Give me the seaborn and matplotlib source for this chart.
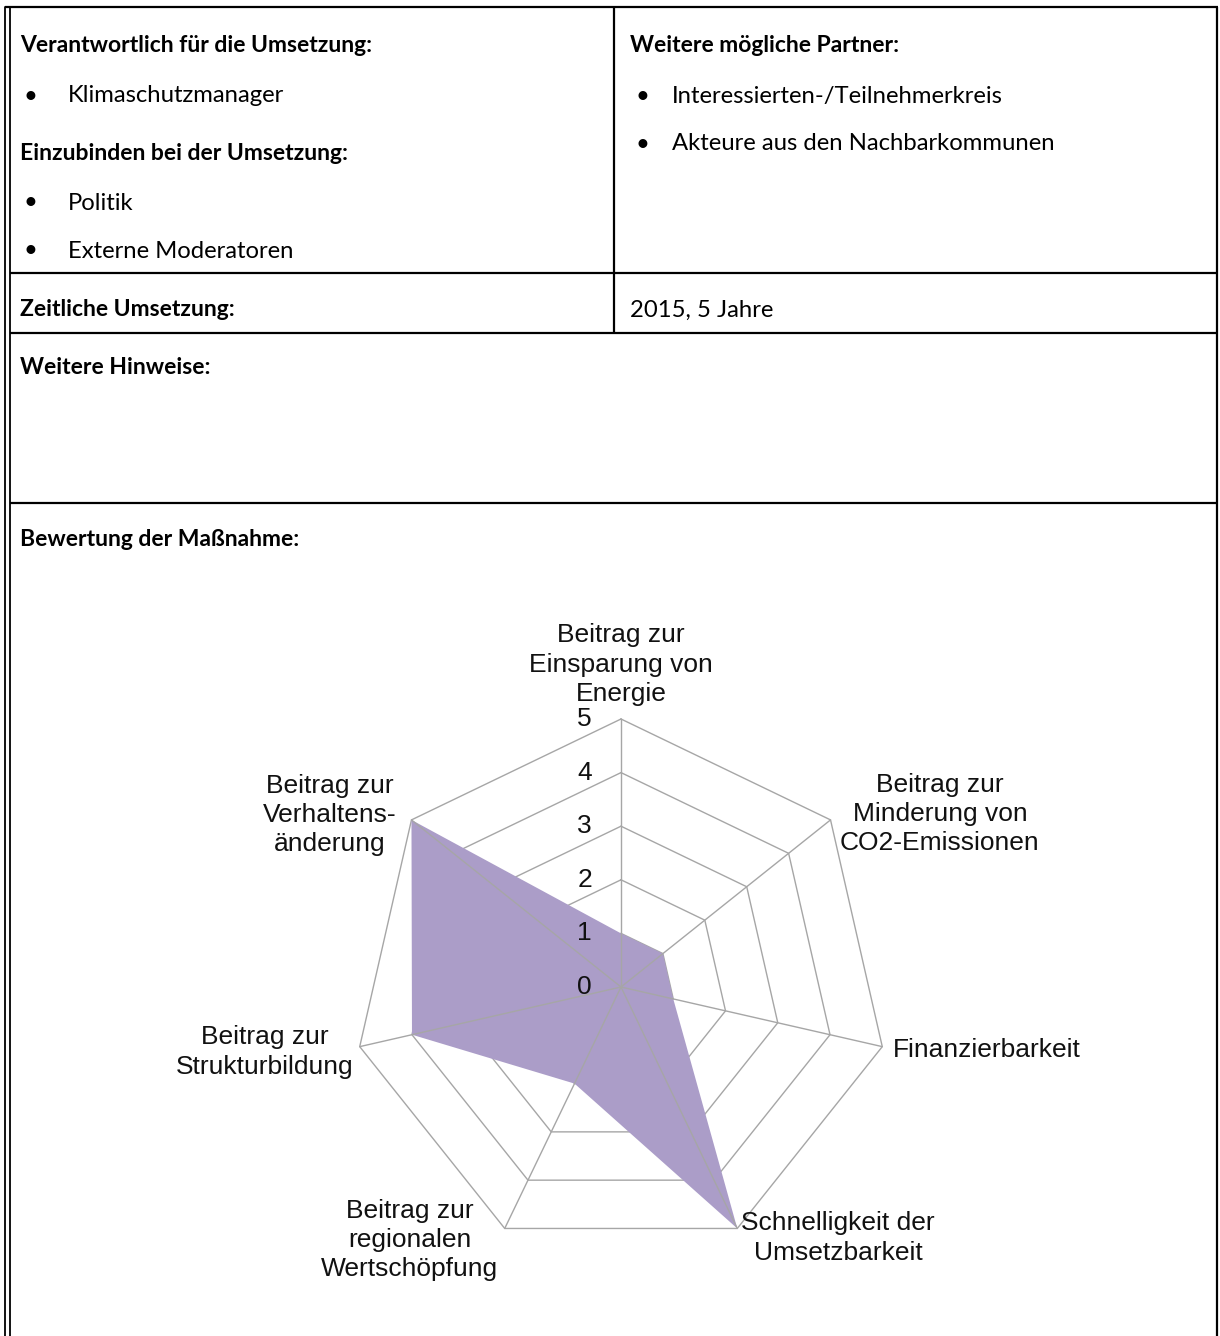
import numpy as np
import pandas as pd
import matplotlib.pyplot as plt
import seaborn as sns

sns.set_theme(style="white")

# Radar data (clockwise from top)
categories = [
    "Beitrag zur\nEinsparung von\nEnergie",
    "Beitrag zur\nMinderung von\nCO2-Emissionen",
    "Finanzierbarkeit",
    "Schnelligkeit der\nUmsetzbarkeit",
    "Beitrag zur\nregionalen\nWertschöpfung",
    "Beitrag zur\nStrukturbildung",
    "Beitrag zur\nVerhaltens-\nänderung",
]
scores = [1, 1, 1, 5, 2, 4, 5]
levels = [1, 2, 3, 4, 5]
tick_labels = ["0", "1", "2", "3", "4", "5"]

# Table texts
left_items = [
    ("Verantwortlich für die Umsetzung:", True),
    ("Klimaschutzmanager", False),
    ("Einzubinden bei der Umsetzung:", True),
    ("Politik", False),
    ("Externe Moderatoren", False),
]
right_items = [
    ("Weitere mögliche Partner:", True),
    ("Interessierten-/Teilnehmerkreis", False),
    ("Akteure aus den Nachbarkommunen", False),
]
zeit_label = "Zeitliche Umsetzung:"
zeit_value = "2015, 5 Jahre"
hinweise_label = "Weitere Hinweise:"
bewertung_label = "Bewertung der Maßnahme:"

W, H = 1220, 1336
fig = plt.figure(figsize=(W / 100, H / 100), dpi=100)

# ---- table frame (pixel coordinates) ----
ax_t = fig.add_axes([0, 0, 1, 1])
ax_t.set_xlim(0, W)
ax_t.set_ylim(H, 0)
ax_t.axis("off")

frame_kw = dict(color="black", lw=1.6, solid_capstyle="butt")
ax_t.plot([5, 1218], [7, 7], **frame_kw)
ax_t.plot([5, 5], [7, H], color="black", lw=1.3)
ax_t.plot([10, 10], [7, H], color="black", lw=1.3)
ax_t.plot([1217, 1217], [7, H], **frame_kw)
ax_t.plot([614, 614], [7, 333], **frame_kw)
for yy in [273, 333, 503]:
    ax_t.plot([10, 1217], [yy, yy], **frame_kw)

tfont = ["Lato", "DejaVu Sans"]
bold_kw = dict(fontsize=16.5, fontweight="bold", family=tfont, va="center",
               ha="left", color="black")
reg_kw = dict(fontsize=17.2, family=tfont, va="center", ha="left", color="black")

left_y = [45, 96, 153, 203, 251]
for (txt, bold), yy in zip(left_items, left_y):
    if bold:
        ax_t.text(20, yy, txt, **bold_kw)
    else:
        ax_t.text(24, yy, "•", **reg_kw)
        ax_t.text(68, yy, txt, **reg_kw)

right_y = [45, 96, 144]
for (txt, bold), yy in zip(right_items, right_y):
    if bold:
        ax_t.text(630, yy, txt, **bold_kw)
    else:
        ax_t.text(636, yy, "•", **reg_kw)
        ax_t.text(672, yy, txt, **reg_kw)

ax_t.text(20, 310, zeit_label, **bold_kw)
ax_t.text(630, 310, zeit_value, **reg_kw)
ax_t.text(20, 367, hinweise_label, **bold_kw)
ax_t.text(20, 540, bewertung_label, **bold_kw)

# ---- radar chart ----
px_per_unit = 53.6
cx, cy = 621, 987
xl, yb, yt = 7.5, -6.2, 7.5
ax_w = 2 * xl * px_per_unit
ax_h = (yt - yb) * px_per_unit
ax_r = fig.add_axes([(cx - xl * px_per_unit) / W,
                     (H - cy + yb * px_per_unit) / H,
                     ax_w / W, ax_h / H])
ax_r.set_xlim(-xl, xl)
ax_r.set_ylim(yb, yt)
ax_r.axis("off")
ax_r.patch.set_alpha(0)

n = len(categories)
angles = np.arange(n) * 2 * np.pi / n
grid_color = "#a6a6a6"

# rings (drawn under the filled area)
for lv in levels:
    ring = pd.DataFrame({
        "x": np.append(lv * np.sin(angles), lv * np.sin(angles[0])),
        "y": np.append(lv * np.cos(angles), lv * np.cos(angles[0])),
    })
    sns.lineplot(data=ring, x="x", y="y", sort=False, estimator=None,
                 color=grid_color, lw=1.0, ax=ax_r, zorder=1)

# filled area
sc = np.array(scores, dtype=float)
ax_r.fill(sc * np.sin(angles), sc * np.cos(angles), color="#ab9dc8", lw=0, zorder=2)

# spokes above the fill
for a in angles:
    spoke = pd.DataFrame({"x": [0, levels[-1] * np.sin(a)], "y": [0, levels[-1] * np.cos(a)]})
    sns.lineplot(data=spoke, x="x", y="y", sort=False, estimator=None,
                 color=grid_color, lw=1.0, ax=ax_r, zorder=3)

lfont = ["Liberation Sans", "DejaVu Sans"]
lsize = 19
for i, t in enumerate(tick_labels):
    ax_r.text(-0.54, i, t, fontsize=lsize, family=lfont, ha="right", va="center",
              color="#111111", zorder=4)

label_pos = [
    (0.0, 5.24, "center", "bottom"),
    (5.95, 3.23, "center", "center"),
    (5.07, -1.18, "left", "center"),
    (4.05, -4.68, "center", "center"),
    (-3.94, -4.72, "center", "center"),
    (-6.64, -1.21, "center", "center"),
    (-5.43, 3.21, "center", "center"),
]
for txt, (lx, ly, ha, va) in zip(categories, label_pos):
    ax_r.text(lx, ly, txt, fontsize=lsize, family=lfont, ha=ha, va=va,
              multialignment="center", linespacing=1.28, color="#111111", zorder=4)

fig.savefig("out.png", dpi=100)
